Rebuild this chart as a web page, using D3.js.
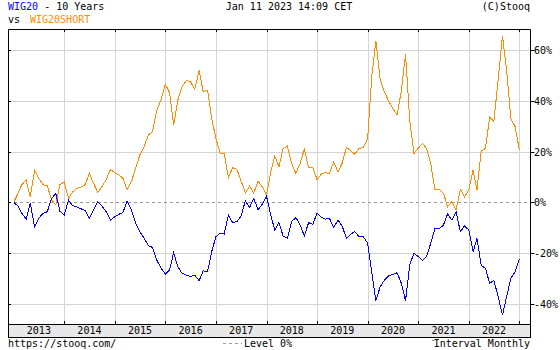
<!DOCTYPE html>
<html>
<head>
<meta charset="utf-8">
<script src="https://cdn.jsdelivr.net/npm/d3@7"></script>
<style>
  body { margin: 0; background: #fff; }
  svg { display: block; }
  text { font-family: "DejaVu Sans Mono", monospace; font-size: 10px; fill: #000; }
</style>
</head>
<body>
<div id="wrapper"></div>
<script>
// monthly closes, % change vs Jan 2013, Jan 2013 .. Jan 2023
const wig20 = [
  0, -1.4, -4.3, -6.6, -0.4, -9.6, -6.3, -4.3, -3.7, 1.5, 3.5, -3.5,
  -5, 0.9, -1.2, -1.8, -2.5, -3.2, -6.5, -3, 0.3, -1.5, -3.7, -7,
  -5.7, -4.7, -4, 0.5, -3, -8.3, -11.6, -14.2, -17.1, -17.8, -22.8, -26,
  -28.3, -26.7, -19.9, -25.4, -28, -28.7, -29.3, -28.7, -30.9, -27, -27.4, -19.5,
  -13.5, -12.2, -12.5, -5, -8, -7.6, -5.4, 0.6, -2, 1.6, -3, -0.7,
  2.4, -5, -10.9, -8, -13.3, -14.2, -7.6, -6, -8.9, -13.3, -8, -8.7,
  -4.3, -5.9, -6.6, -6.3, -9.9, -7, -9.3, -14.2, -12.5, -11.6, -13.6, -13.6,
  -16, -28, -38.8, -33.3, -30.7, -29, -28.5, -27.8, -32, -38.8, -24.5, -20.1,
  -21.4, -23, -21.4, -16.2, -10.4, -10.3, -9.1, -4.6, -7, -3.7, -11.6, -9.3,
  -10.9, -19.5, -14.2, -25, -26, -32, -30.7, -37.2, -44.5, -37.2, -30, -27.4,
  -22.5
]
const wig20short = [
  0, 3.5, 7, 8.8, 2.2, 12.5, 9.5, 7, 6.5, 1, -1, 7,
  8, 1.6, 4, 5.5, 6, 7, 11.5, 7.5, 3.9, 6.2, 9, 13,
  11.7, 10.8, 9.5, 4.9, 8.2, 13.4, 18.7, 22, 26.6, 27.9, 36.4, 40.4,
  46.6, 43.3, 30.5, 40.4, 45.7, 48, 47.6, 44.6, 52, 43.7, 44.3, 33.2,
  25, 19.3, 19.3, 9.7, 13.7, 13, 8.5, 3.7, 6.4, 3.7, 8.3, 6.2,
  2.9, 12, 18.3, 14, 21.3, 22.2, 15.4, 11.4, 15.4, 21, 13.8, 13.8,
  9, 11.2, 11.7, 11.4, 16, 12, 15.4, 21.7, 20.4, 19, 21.3, 21.7,
  25, 50, 63.8, 48.5, 43.7, 40, 37, 34.5, 44, 58.5, 32, 19.3,
  21.3, 23.3, 21.3, 15.4, 4.9, 5.1, 3.6, -1.7, 0.3, -3, 5.1, 2.2,
  4.9, 12.8, 4.9, 20.3, 21.3, 33.6, 32, 48.3, 65.7, 52.2, 33, 29.9,
  20.8
]
const years = [2013, 2014, 2015, 2016, 2017, 2018, 2019, 2020, 2021, 2022]
const yTicks = [-40, -20, 0, 20, 40, 60]

const startDate = new Date(2013, 0, 1)
const dates = wig20.map((d, i) => d3.timeMonth.offset(startDate, i))

const width = 560
const height = 350
const plot = { left: 8, right: 530, top: 29, bottom: 324, band: 337 }

const svg = d3.select("#wrapper")
  .append("svg")
    .attr("width", width)
    .attr("height", height)

const xScale = d3.scaleTime()
  .domain([new Date(2012, 10, 21), new Date(2023, 2, 19)])
  .range([plot.left, plot.right])

const yScale = d3.scaleLinear()
  .domain([-48, 68.4])
  .range([plot.bottom, plot.top])

// grid
const yearStarts = years.slice(1).map(y => new Date(y, 0, 1)).concat([new Date(2023, 0, 1)])

svg.append("g")
  .selectAll("line")
  .data(yearStarts)
  .join("line")
    .attr("x1", d => Math.round(xScale(d)) + 0.5)
    .attr("x2", d => Math.round(xScale(d)) + 0.5)
    .attr("y1", plot.top)
    .attr("y2", plot.bottom)
    .attr("stroke", "#d4d4d4")

svg.append("g")
  .selectAll("line")
  .data(yTicks.filter(d => d != 0))
  .join("line")
    .attr("x1", plot.left)
    .attr("x2", plot.right)
    .attr("y1", d => Math.round(yScale(d)) + 0.5)
    .attr("y2", d => Math.round(yScale(d)) + 0.5)
    .attr("stroke", "#d4d4d4")

// level 0
svg.append("line")
  .attr("x1", plot.left)
  .attr("x2", plot.right)
  .attr("y1", Math.round(yScale(0)) + 0.5)
  .attr("y2", Math.round(yScale(0)) + 0.5)
  .attr("stroke", "#999")
  .attr("stroke-dasharray", "3,3")

// small ticks on frame
svg.append("g")
  .selectAll("line")
  .data(yearStarts)
  .join("line")
    .attr("x1", d => Math.round(xScale(d)) + 0.5)
    .attr("x2", d => Math.round(xScale(d)) + 0.5)
    .attr("y1", plot.top)
    .attr("y2", plot.top + 3)
    .attr("stroke", "#000")
svg.append("g")
  .selectAll("line")
  .data(yearStarts)
  .join("line")
    .attr("x1", d => Math.round(xScale(d)) + 0.5)
    .attr("x2", d => Math.round(xScale(d)) + 0.5)
    .attr("y1", plot.bottom - 3)
    .attr("y2", plot.bottom)
    .attr("stroke", "#000")
svg.append("g")
  .selectAll("line")
  .data(yTicks)
  .join("line")
    .attr("x1", plot.left)
    .attr("x2", plot.left + 3)
    .attr("y1", d => Math.round(yScale(d)) + 0.5)
    .attr("y2", d => Math.round(yScale(d)) + 0.5)
    .attr("stroke", "#000")

// series
const lineGen = values => d3.line()
  .x((d, i) => xScale(dates[i]))
  .y(d => yScale(d))(values)

svg.append("path")
  .attr("d", lineGen(wig20short))
  .attr("fill", "none")
  .attr("stroke", "#ff8c00")
  .attr("stroke-width", 1)
  .attr("shape-rendering", "crispEdges")

svg.append("path")
  .attr("d", lineGen(wig20))
  .attr("fill", "none")
  .attr("stroke", "#0000ff")
  .attr("stroke-width", 1)
  .attr("shape-rendering", "crispEdges")

// frame
svg.append("path")
  .attr("d", `M${plot.left + 0.5},${plot.bottom}V${plot.top + 0.5}H${plot.right + 0.5}V${plot.bottom}`)
  .attr("fill", "none")
  .attr("stroke", "#000")

// right axis
const yAxis = svg.append("g")
  .attr("transform", `translate(${plot.right + 0.5},0)`)
yAxis.selectAll("line")
  .data(yTicks)
  .join("line")
    .attr("x1", 0)
    .attr("x2", 4)
    .attr("y1", d => Math.round(yScale(d)) + 0.5)
    .attr("y2", d => Math.round(yScale(d)) + 0.5)
    .attr("stroke", "#000")
yAxis.selectAll("text")
  .data(yTicks)
  .join("text")
    .attr("x", 3.5)
    .attr("y", d => Math.round(yScale(d)) + 4)
    .text(d => d + "%")

// x band
svg.append("rect")
  .attr("x", plot.left + 0.5)
  .attr("y", plot.bottom + 0.5)
  .attr("width", plot.right - plot.left)
  .attr("height", plot.band - plot.bottom)
  .attr("fill", "#e8e8e8")
  .attr("stroke", "#000")

svg.append("g")
  .selectAll("text")
  .data(years)
  .join("text")
    .attr("x", d => xScale(new Date(d, 6, 2)))
    .attr("y", plot.band - 3)
    .attr("text-anchor", "middle")
    .text(d => d)

// header
const t1 = svg.append("text").attr("x", 8).attr("y", 10)
t1.append("tspan").attr("fill", "#0000ff").style("fill", "#0000ff").text("WIG20")
t1.append("tspan").text(" - 10 Years")

svg.append("text").attr("x", 8).attr("y", 23).text("vs")
svg.append("text").attr("x", 30).attr("y", 23).style("fill", "#ff8c00").text("WIG20SHORT")

svg.append("text")
  .attr("x", 289)
  .attr("y", 10)
  .attr("text-anchor", "middle")
  .text("Jan 11 2023 14:09 CET")

svg.append("text")
  .attr("x", 530)
  .attr("y", 10)
  .attr("text-anchor", "end")
  .text("(C)Stooq")

// footer
svg.append("text").attr("x", 8).attr("y", 347).text("https://stooq.com/")

svg.append("line")
  .attr("x1", 223).attr("x2", 242)
  .attr("y1", 343.5).attr("y2", 343.5)
  .attr("stroke", "#999")
  .attr("stroke-dasharray", "3,3")
svg.append("text").attr("x", 244).attr("y", 347).text("Level 0%")

svg.append("line")
  .attr("x1", 432).attr("x2", 435)
  .attr("y1", 340.5).attr("y2", 340.5)
  .attr("stroke", "#999")
svg.append("text")
  .attr("x", 530)
  .attr("y", 347)
  .attr("text-anchor", "end")
  .text("Interval Monthly")
</script>
</body>
</html>
